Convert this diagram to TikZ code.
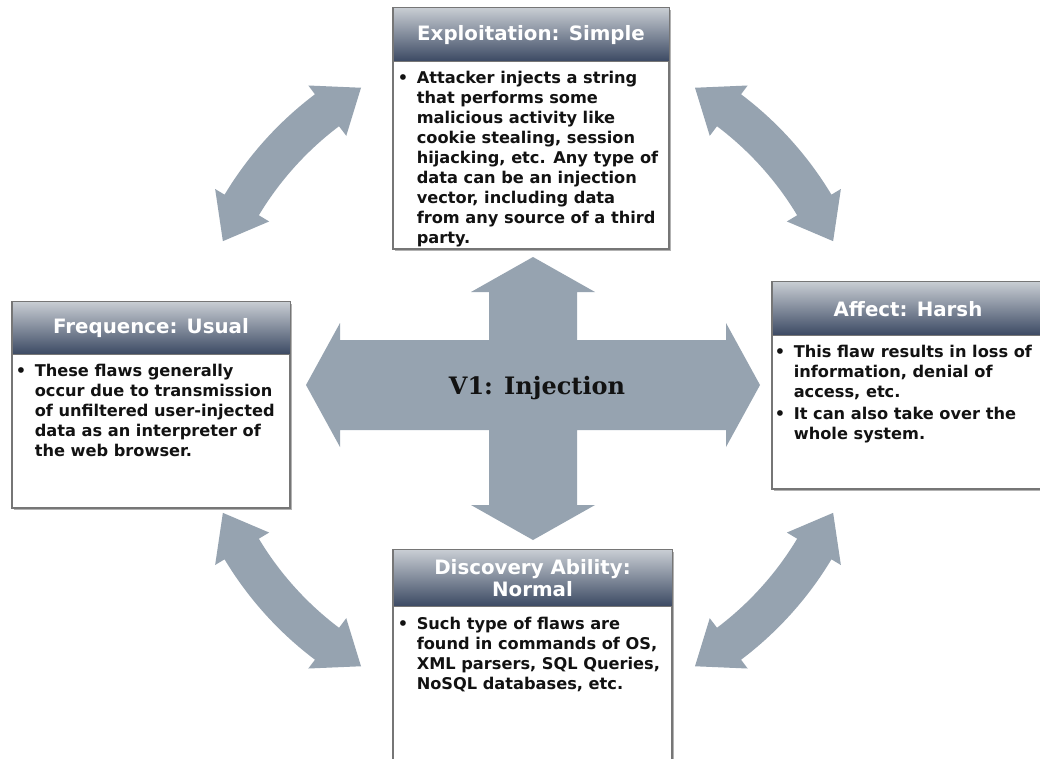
\documentclass[tikz,border=0pt]{standalone}
\usepackage{fontspec}
\setmainfont{DejaVu Sans}
\newfontfamily\coreface{DejaVu Serif}
\usetikzlibrary{shadows}

\definecolor{flowgray}{RGB}{150,163,176}
\definecolor{headtop}{RGB}{200,205,211}
\definecolor{headbot}{RGB}{58,72,98}
\definecolor{frame}{RGB}{118,118,118}
\definecolor{ink}{RGB}{18,18,18}

\newcommand{\bul}{\makebox[19pt][l]{\textbullet}}

\tikzset{
  panel/.style={rectangle, draw=frame, line width=1.2pt, fill=white, inner sep=0pt,
    general shadow={fill=black!30, shadow xshift=2pt, shadow yshift=-2pt}},
  head/.style={rectangle, draw=frame, line width=0.8pt, top color=headtop, bottom color=headbot,
    text=white, align=center, inner sep=0pt, font=\bfseries\fontsize{19.8}{22}\selectfont},
  body/.style={inner sep=0pt, text=ink, anchor=base west, font=\bfseries\fontsize{16.2}{20}\selectfont},
  flow/.style={fill=flowgray},
}

\begin{document}
\begin{tikzpicture}[x=1pt,y=-1pt]
\clip (0,0) rectangle (1040,758);
\fill[white] (0,0) rectangle (1040,758);

% central four-way arrow
\fill[flow] (533,257) -- (595,292) -- (577,292) -- (577,340) -- (726,340) -- (726,323)
  -- (760,385) -- (726,447) -- (726,430) -- (577,430) -- (577,505) -- (595,505)
  -- (533,540) -- (471,505) -- (489,505) -- (489,430) -- (340,430) -- (340,447)
  -- (306,385) -- (340,323) -- (340,340) -- (489,340) -- (489,292) -- (471,292) -- cycle;
\node[font=\coreface\bfseries\fontsize{24}{28}\selectfont, text=ink, inner sep=0pt, anchor=base]
  (core) at (537,394) {V1: Injection};

% curved double arrows around the centre
\begin{scope}[shift={(528,377)}, y=1pt]
  \foreach \a/\b in {120/156, 24/60, 204/240, 300/336}{
    \fill[flow] (\a:334) -- (\a+7:365) -- (\a+7:354)
      arc[start angle=\a+7, end angle=\b-7, radius=354]
      -- (\b-7:365) -- (\b:334) -- (\b-7:302) -- (\b-7:314)
      arc[start angle=\b-7, end angle=\a+7, radius=314]
      -- (\a+7:302) -- cycle;
  }
\end{scope}

% Exploitation
\node[panel, minimum width=276pt, minimum height=241pt] (expl) at (531,128.5) {};
\node[head, minimum width=276pt, minimum height=54pt, anchor=north] (explH) at (expl.north) {Exploitation: Simple};
\node[body] (explT) at ([xshift=5pt, yshift=-21pt]explH.south west) {%
  \begin{tabular}[t]{@{}l@{}l@{}}
  \bul & Attacker injects a string\\
       & that performs some\\
       & malicious activity like\\
       & cookie stealing, session\\
       & hijacking, etc. Any type of\\
       & data can be an injection\\
       & vector, including data\\
       & from any source of a third\\
       & party.
  \end{tabular}};

% Frequence
\node[panel, minimum width=278pt, minimum height=206pt] (freq) at (151,405) {};
\node[head, minimum width=278pt, minimum height=53pt, anchor=north] (freqH) at (freq.north) {Frequence: Usual};
\node[body] (freqT) at ([xshift=4pt, yshift=-21pt]freqH.south west) {%
  \begin{tabular}[t]{@{}l@{}l@{}}
  \bul & These flaws generally\\
       & occur due to transmission\\
       & of unfiltered user-injected\\
       & data as an interpreter of\\
       & the web browser.
  \end{tabular}};

% Affect
\node[panel, minimum width=272pt, minimum height=207pt] (affe) at (908,385.5) {};
\node[head, minimum width=272pt, minimum height=54pt, anchor=north] (affeH) at (affe.north) {Affect: Harsh};
\node[body] (affeT) at ([xshift=3pt, yshift=-21pt]affeH.south west) {%
  \begin{tabular}[t]{@{}l@{}l@{}}
  \bul & This flaw results in loss of\\
       & information, denial of\\
       & access, etc.\\[2pt]
  \bul & It can also take over the\\
       & whole system.
  \end{tabular}};

% Discovery
\node[panel, minimum width=279pt, minimum height=225pt] (disc) at (532.5,662.5) {};
\node[head, minimum width=279pt, minimum height=57pt, anchor=north] (discH) at (disc.north) {Discovery Ability:\\Normal};
\node[body] (discT) at ([xshift=5pt, yshift=-22pt]discH.south west) {%
  \begin{tabular}[t]{@{}l@{}l@{}}
  \bul & Such type of flaws are\\
       & found in commands of OS,\\
       & XML parsers, SQL Queries,\\
       & NoSQL databases, etc.
  \end{tabular}};
\end{tikzpicture}
\end{document}
